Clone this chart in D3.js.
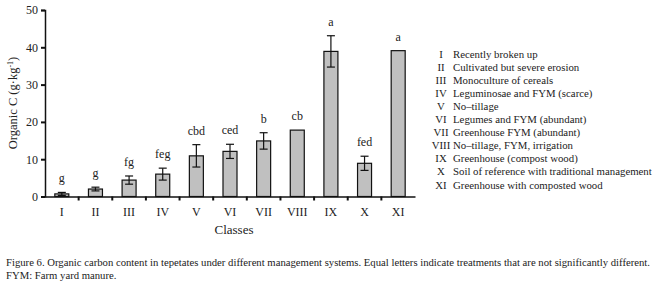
<!DOCTYPE html>
<html>
<head>
<meta charset="utf-8">
<script src="https://cdn.jsdelivr.net/npm/d3@7"></script>
<style>
  body { margin: 0; background: #fff; }
  svg { display: block; }
  text { font-family: "Liberation Serif", "Times New Roman", serif; fill: #222; }
</style>
</head>
<body>
<svg id="chart" width="656" height="283"></svg>
<script>
// data
var classes = ["I", "II", "III", "IV", "V", "VI", "VII", "VIII", "IX", "X", "XI"];
var carbon = [0.7, 2.0, 4.4, 6.0, 10.9, 12.1, 14.9, 17.8, 38.9, 8.9, 39.1];
var errors = [0.4, 0.5, 1.1, 1.6, 3.0, 1.9, 2.2, 0, 4.2, 1.9, 0];
var letters = ["g", "g", "fg", "feg", "cbd", "ced", "b", "cb", "a", "fed", "a"];
var yTicks = [0, 10, 20, 30, 40, 50];
var descriptions = [
    "Recently broken up",
    "Cultivated but severe erosion",
    "Monoculture of cereals",
    "Leguminosae and FYM (scarce)",
    "No\u2013tillage",
    "Legumes and FYM (abundant)",
    "Greenhouse FYM (abundant)",
    "No\u2013tillage, FYM, irrigation",
    "Greenhouse (compost wood)",
    "Soil of reference with traditional management",
    "Greenhouse with composted wood"
];
var caption = [
    "Figure 6. Organic carbon content in tepetates under different management systems. Equal letters indicate treatments that are not significantly different.",
    "FYM: Farm yard manure."
];

var svg = d3.select("#chart");

var x = d3.scaleBand().domain(classes).range([45, 415]);
var y = d3.scaleLinear().domain([0, 50]).range([196.5, 10]);
var barW = 14;

// bars
svg.append("g")
    .selectAll("rect")
    .data(classes)
    .enter()
    .append("rect")
    .attr("x", function (d) { return x(d) + x.bandwidth() / 2 - barW / 2; })
    .attr("y", function (d, i) { return y(carbon[i]); })
    .attr("width", barW)
    .attr("height", function (d, i) { return y(0) - y(carbon[i]); })
    .style("fill", "#c0c0c0")
    .style("stroke", "#111")
    .style("stroke-width", 1.2);

// error bars
var eb = svg.append("g").style("stroke", "#111").style("stroke-width", 1.2);
classes.forEach(function (c, i) {
    if (!errors[i]) return;
    var cx = x(c) + x.bandwidth() / 2;
    var hi = y(carbon[i] + errors[i]), lo = y(carbon[i] - errors[i]);
    eb.append("line").attr("x1", cx).attr("x2", cx).attr("y1", hi).attr("y2", lo);
    eb.append("line").attr("x1", cx - 4).attr("x2", cx + 4).attr("y1", hi).attr("y2", hi);
    eb.append("line").attr("x1", cx - 4).attr("x2", cx + 4).attr("y1", lo).attr("y2", lo);
});

// significance letters
svg.append("g")
    .selectAll("text")
    .data(classes)
    .enter()
    .append("text")
    .attr("x", function (d) { return x(d) + x.bandwidth() / 2; })
    .attr("y", function (d, i) { return y(carbon[i] + errors[i]) - 10; })
    .attr("text-anchor", "middle")
    .style("font-size", "12px")
    .text(function (d, i) { return letters[i]; });

// y axis
var yAxis = svg.append("g")
    .attr("transform", "translate(45,0)")
    .call(d3.axisLeft(y).tickValues(yTicks).tickSize(4).tickPadding(3));
yAxis.selectAll("text").style("font-size", "12px").style("font-family", "Liberation Serif");

// x axis, ticks between the categories
var xAxis = svg.append("g")
    .attr("transform", "translate(0," + y(0) + ")")
    .call(d3.axisBottom(x).tickSize(0).tickPadding(11));
xAxis.selectAll("text").style("font-size", "12px").style("font-family", "Liberation Serif");
xAxis.selectAll(".tick line").remove();
xAxis.selectAll("line.sep")
    .data(classes.slice(1))
    .enter()
    .append("line")
    .attr("class", "sep")
    .attr("x1", function (d) { return x(d); })
    .attr("x2", function (d) { return x(d); })
    .attr("y1", 0)
    .attr("y2", 4)
    .attr("stroke", "#111");

svg.selectAll(".domain").attr("stroke", "#111").attr("stroke-width", 1.5);
svg.selectAll(".tick line").attr("stroke", "#111").attr("stroke-width", 2);
xAxis.selectAll("line.sep").attr("stroke-width", 2);
svg.selectAll(".tick text").attr("fill", "#222");

// axis titles
svg.append("text")
    .attr("x", 234)
    .attr("y", 234)
    .attr("text-anchor", "middle")
    .style("font-size", "13px")
    .text("Classes");

var yt = svg.append("text")
    .attr("text-anchor", "middle")
    .attr("transform", "translate(17,103)rotate(-90)")
    .style("font-size", "12.5px");
yt.append("tspan").text("Organic C (g\u00b7kg");
yt.append("tspan").attr("dy", -4).style("font-size", "8px").text("-1");
yt.append("tspan").attr("dy", 4).text(")");

// legend of classes
var leg = svg.append("g");
classes.forEach(function (c, i) {
    var ly = 57.5 + i * 13.1;
    leg.append("text")
        .attr("x", 441).attr("y", ly)
        .attr("text-anchor", "middle")
        .style("font-size", "10.8px")
        .text(c);
    leg.append("text")
        .attr("x", 453).attr("y", ly)
        .style("font-size", "10.8px")
        .text(descriptions[i]);
});

// caption
var cap1 = svg.append("text")
    .attr("x", 6).attr("y", 266)
    .style("font-size", "10px")
    .text(caption[0]);
var len = cap1.node().getComputedTextLength();
var fs = 10 * 645 / len;
cap1.style("font-size", fs + "px");
svg.append("text")
    .attr("x", 6).attr("y", 279)
    .style("font-size", fs + "px")
    .text(caption[1]);
</script>
</body>
</html>
